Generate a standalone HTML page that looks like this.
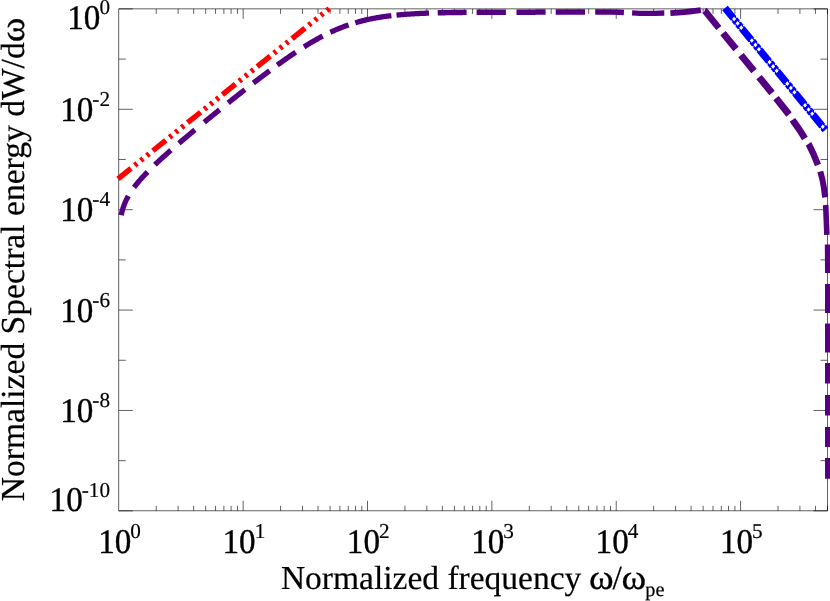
<!DOCTYPE html>
<html lang="en"><head><meta charset="utf-8"><title>Spectrum</title>
<style>html,body{margin:0;padding:0;background:#fff;overflow:hidden}svg{display:block;will-change:transform}text{font-family:"Liberation Serif",serif;fill:#000;stroke:#000;stroke-width:.2px;text-rendering:geometricPrecision}</style></head><body>
<svg width="830" height="601" viewBox="0 0 830 601">
<rect width="830" height="601" fill="#fff"/>
<g fill="none" stroke="#000" stroke-width="0.62">
<rect x="118.80" y="8.90" width="708.70" height="501.95"/>
<path d="M156.23 510.85 v-5.00 M156.23 8.90 v5.00 M178.13 510.85 v-5.00 M178.13 8.90 v5.00 M193.67 510.85 v-5.00 M193.67 8.90 v5.00 M205.72 510.85 v-5.00 M205.72 8.90 v5.00 M215.57 510.85 v-5.00 M215.57 8.90 v5.00 M223.89 510.85 v-5.00 M223.89 8.90 v5.00 M231.10 510.85 v-5.00 M231.10 8.90 v5.00 M237.47 510.85 v-5.00 M237.47 8.90 v5.00 M243.16 510.85 v-10.00 M243.16 8.90 v10.00 M280.59 510.85 v-5.00 M280.59 8.90 v5.00 M302.49 510.85 v-5.00 M302.49 8.90 v5.00 M318.03 510.85 v-5.00 M318.03 8.90 v5.00 M330.08 510.85 v-5.00 M330.08 8.90 v5.00 M339.92 510.85 v-5.00 M339.92 8.90 v5.00 M348.25 510.85 v-5.00 M348.25 8.90 v5.00 M355.46 510.85 v-5.00 M355.46 8.90 v5.00 M361.82 510.85 v-5.00 M361.82 8.90 v5.00 M367.51 510.85 v-10.00 M367.51 8.90 v10.00 M404.95 510.85 v-5.00 M404.95 8.90 v5.00 M426.84 510.85 v-5.00 M426.84 8.90 v5.00 M442.38 510.85 v-5.00 M442.38 8.90 v5.00 M454.43 510.85 v-5.00 M454.43 8.90 v5.00 M464.28 510.85 v-5.00 M464.28 8.90 v5.00 M472.60 510.85 v-5.00 M472.60 8.90 v5.00 M479.82 510.85 v-5.00 M479.82 8.90 v5.00 M486.18 510.85 v-5.00 M486.18 8.90 v5.00 M491.87 510.85 v-10.00 M491.87 8.90 v10.00 M529.30 510.85 v-5.00 M529.30 8.90 v5.00 M551.20 510.85 v-5.00 M551.20 8.90 v5.00 M566.74 510.85 v-5.00 M566.74 8.90 v5.00 M578.79 510.85 v-5.00 M578.79 8.90 v5.00 M588.64 510.85 v-5.00 M588.64 8.90 v5.00 M596.96 510.85 v-5.00 M596.96 8.90 v5.00 M604.17 510.85 v-5.00 M604.17 8.90 v5.00 M610.53 510.85 v-5.00 M610.53 8.90 v5.00 M616.22 510.85 v-10.00 M616.22 8.90 v10.00 M653.66 510.85 v-5.00 M653.66 8.90 v5.00 M675.56 510.85 v-5.00 M675.56 8.90 v5.00 M691.09 510.85 v-5.00 M691.09 8.90 v5.00 M703.14 510.85 v-5.00 M703.14 8.90 v5.00 M712.99 510.85 v-5.00 M712.99 8.90 v5.00 M721.32 510.85 v-5.00 M721.32 8.90 v5.00 M728.53 510.85 v-5.00 M728.53 8.90 v5.00 M734.89 510.85 v-5.00 M734.89 8.90 v5.00 M740.58 510.85 v-10.00 M740.58 8.90 v10.00 M778.01 510.85 v-5.00 M778.01 8.90 v5.00 M799.91 510.85 v-5.00 M799.91 8.90 v5.00 M815.45 510.85 v-5.00 M815.45 8.90 v5.00 M827.50 510.85 v-5.00 M827.50 8.90 v5.00 M118.80 8.90 h14.00 M827.50 8.90 h-14.00 M118.80 59.10 h7.00 M827.50 59.10 h-7.00 M118.80 109.29 h14.00 M827.50 109.29 h-14.00 M118.80 159.49 h7.00 M827.50 159.49 h-7.00 M118.80 209.68 h14.00 M827.50 209.68 h-14.00 M118.80 259.88 h7.00 M827.50 259.88 h-7.00 M118.80 310.07 h14.00 M827.50 310.07 h-14.00 M118.80 360.27 h7.00 M827.50 360.27 h-7.00 M118.80 410.46 h14.00 M827.50 410.46 h-14.00 M118.80 460.66 h7.00 M827.50 460.66 h-7.00 M118.80 510.85 h14.00 M827.50 510.85 h-14.00"/>
</g>
<g fill="none" stroke-linecap="butt" stroke-linejoin="miter" stroke-width="5.60">
<path stroke="#550082" stroke-width="5.30" d="M121.23 215.30 L121.40 214.44 L121.65 213.28 L121.90 212.21 L122.15 211.22 L122.40 210.28 L122.65 209.40 L122.90 208.56 L123.15 207.76 L123.40 207.00 L123.65 206.27 L123.90 205.57 L124.15 204.89 L124.40 204.24 L124.65 203.61 L124.90 203.00 L125.15 202.41 L125.40 201.84 L125.65 201.28 L125.90 200.74 L126.15 200.21 L126.40 199.69 L126.65 199.18 L126.90 198.69 L127.15 198.20 L127.40 197.73 L127.65 197.26 L127.90 196.80 L128.15 196.35 L128.35 196.00 M134.00 187.43 L134.15 187.23 L134.40 186.90 L134.65 186.57 L134.90 186.24 L135.15 185.92 L136.15 184.64 L137.15 183.41 L138.15 182.20 L139.15 181.02 L140.15 179.87 L141.15 178.74 L142.15 177.63 L143.15 176.54 L144.15 175.46 L145.15 174.41 L146.15 173.36 L147.15 172.33 L147.50 171.98 M154.90 164.71 L155.15 164.47 L156.15 163.53 L157.15 162.59 L158.15 161.66 L159.15 160.73 L160.15 159.81 L161.15 158.90 L162.15 157.99 L163.15 157.09 L164.15 156.19 L165.15 155.29 L166.15 154.40 L167.15 153.51 L168.15 152.63 L169.15 151.74 L170.15 150.87 L170.90 150.21 M178.90 143.31 L179.15 143.10 L180.15 142.24 L181.15 141.39 L182.15 140.55 L183.15 139.70 L184.15 138.86 L185.15 138.02 L186.15 137.17 L187.15 136.34 L188.15 135.50 L189.15 134.66 L190.15 133.83 L191.15 132.99 L192.15 132.16 L193.15 131.33 L194.15 130.50 L194.90 129.88 M204.20 122.23 L205.15 121.45 L206.15 120.64 L207.15 119.82 L208.15 119.01 L209.15 118.19 L210.15 117.38 L211.15 116.57 L212.15 115.76 L213.15 114.95 L214.15 114.14 L215.15 113.33 L216.15 112.52 L217.15 111.71 L218.15 110.91 L219.15 110.10 L219.60 109.74 M228.20 102.84 L229.15 102.09 L230.15 101.29 L231.15 100.49 L232.15 99.70 L233.15 98.90 L234.15 98.11 L235.15 97.32 L236.15 96.52 L237.15 95.73 L238.15 94.94 L239.15 94.15 L240.15 93.37 L241.15 92.58 L242.15 91.79 L243.15 91.01 L244.15 90.23 L244.90 89.64 M253.40 83.03 L254.15 82.45 L255.15 81.68 L256.15 80.91 L257.15 80.15 L258.15 79.38 L259.15 78.61 L260.15 77.85 L261.15 77.09 L262.15 76.33 L263.15 75.57 L264.15 74.82 L265.15 74.06 L266.15 73.31 L267.15 72.56 L268.15 71.81 L269.15 71.07 L269.60 70.73 M277.30 65.07 L278.15 64.45 L279.15 63.73 L280.15 63.01 L281.15 62.29 L282.15 61.58 L283.15 60.87 L284.15 60.16 L285.15 59.46 L286.15 58.75 L287.15 58.06 L288.15 57.36 L289.15 56.67 L290.15 55.98 L291.15 55.30 L292.15 54.62 L293.15 53.94 L294.15 53.27 L295.15 52.60 L295.70 52.23 M304.00 46.86 L304.15 46.77 L305.15 46.15 L306.15 45.53 L307.15 44.91 L308.15 44.30 L309.15 43.70 L310.15 43.10 L311.15 42.51 L312.15 41.92 L313.15 41.34 L314.15 40.77 L315.15 40.20 L316.15 39.63 L317.15 39.07 L318.15 38.52 L319.15 37.97 L320.15 37.44 L321.15 36.90 L322.15 36.37 L322.70 36.09 M330.40 32.28 L331.15 31.93 L332.15 31.46 L333.15 31.01 L334.15 30.56 L335.15 30.12 L336.15 29.69 L337.15 29.27 L338.15 28.85 L339.15 28.44 L340.15 28.03 L341.15 27.63 L342.15 27.24 L343.15 26.86 L344.15 26.48 L345.15 26.11 L346.15 25.75 L347.15 25.39 L348.15 25.05 L348.60 24.89 M355.30 22.75 L356.15 22.50 L357.15 22.21 L358.15 21.93 L359.15 21.65 L360.15 21.38 L361.15 21.12 L362.15 20.86 L363.15 20.61 L364.15 20.37 L365.15 20.13 L366.15 19.89 L367.15 19.67 L368.15 19.44 L369.15 19.23 L370.15 19.02 L371.15 18.81 L372.15 18.61 L373.15 18.42 L374.15 18.23 L375.15 18.04 L376.15 17.86 L377.15 17.69 L378.15 17.52 L379.15 17.35 L380.15 17.19 L381.15 17.03 L382.15 16.88 L383.15 16.73 L384.15 16.59 L385.15 16.45 L386.15 16.31 L387.15 16.18 L388.15 16.05 L389.15 15.93 L390.15 15.81 L391.15 15.69 L391.40 15.66 M396.50 15.12 L397.15 15.05 L398.15 14.96 L399.15 14.87 L400.15 14.78 L401.15 14.69 L402.15 14.61 L403.15 14.52 L404.15 14.45 L405.15 14.37 L406.15 14.29 L407.15 14.22 L408.15 14.15 L409.15 14.09 L410.15 14.02 L411.15 13.96 L412.15 13.90 L413.15 13.84 L414.15 13.78 L415.15 13.72 L416.15 13.67 L417.15 13.62 L418.15 13.57 L419.15 13.52 L420.15 13.47 L421.15 13.43 L422.15 13.38 L423.15 13.34 L424.15 13.30 L425.15 13.26 L426.15 13.22 L427.15 13.18 L428.15 13.15 L429.00 13.12 M632.10 12.91 L640.00 13.30 L655.00 13.30 L664.00 13.00 L664.30 13.00"/>
<path stroke="#550082" stroke-width="5.40" d="M437.70 12.86 L438.15 12.84 L439.15 12.82 L440.15 12.79 L441.15 12.77 L442.15 12.75 L443.15 12.73 L444.15 12.71 L445.15 12.68 L446.15 12.67 L447.15 12.65 L448.15 12.63 L449.15 12.61 L450.15 12.59 L451.15 12.58 L452.15 12.56 L453.15 12.54 L454.15 12.53 L455.15 12.51 L456.15 12.50 L457.15 12.49 L458.15 12.47 L459.15 12.46 L460.15 12.45 L461.15 12.44 L462.15 12.43 L463.15 12.41 L464.15 12.40 L465.15 12.39 L466.15 12.38 L466.60 12.38"/>
<path stroke="#550082" stroke-width="5.50" d="M476.60 12.30 L477.15 12.29 L478.15 12.29 L479.15 12.28 L480.15 12.27 L481.15 12.27 L482.15 12.26 L483.15 12.26 L484.15 12.25 L485.15 12.25 L486.15 12.24 L487.15 12.24 L488.15 12.23 L489.15 12.23 L490.15 12.22 L491.15 12.22 L492.15 12.22 L493.15 12.21 L494.15 12.21 L495.15 12.20 L496.15 12.20 L497.15 12.20 L498.15 12.19 L499.15 12.19 L500.15 12.19 L501.15 12.18 L502.15 12.18 L503.15 12.18 L504.15 12.18 L505.15 12.17 L505.90 12.17 M516.50 12.15 L517.15 12.15 L518.15 12.15 L519.15 12.15 L520.15 12.14 L521.15 12.14 L522.15 12.14 L523.15 12.14 L524.15 12.14 L525.15 12.14 L526.15 12.14 L527.15 12.13 L528.15 12.13 L529.15 12.13 L530.15 12.13 L531.15 12.13 L532.15 12.13 L533.15 12.13 L534.15 12.13 L535.15 12.13 L536.15 12.12 L537.15 12.12 L538.15 12.12 L539.15 12.12 L540.15 12.12 L541.15 12.12 L542.15 12.12 L543.15 12.12 L544.15 12.12 L545.15 12.12 L545.60 12.12 M555.70 12.11 L556.15 12.11 L557.15 12.11 L558.15 12.11 L559.15 12.11 L560.15 12.11 L561.15 12.11 L562.15 12.11 L563.15 12.11 L564.15 12.11 L565.15 12.11 L566.15 12.11 L567.15 12.11 L568.15 12.11 L569.15 12.11 L570.15 12.11 L571.15 12.11 L572.15 12.11 L573.15 12.11 L574.15 12.11 L575.15 12.11 L576.15 12.11 L577.15 12.11 L578.15 12.11 L579.15 12.11 L580.15 12.11 L581.15 12.11 L582.15 12.11 L583.15 12.10 L584.15 12.10 L585.00 12.10 M595.20 12.10 L596.15 12.10 L597.15 12.10 L598.15 12.10 L599.15 12.10 L600.15 12.10 L601.15 12.10 L602.15 12.10 L603.15 12.10 L604.15 12.10 L605.15 12.10 L606.15 12.10 L607.15 12.10 L608.15 12.10 L609.15 12.10 L610.15 12.10 L611.15 12.10 L620.00 12.35 L623.90 12.53"/>
<path stroke="#550082" stroke-width="5.60" d="M825.65 205.00 L825.70 205.70 L826.30 220.00 L826.90 234.90 M827.60 244.60 L827.80 273.00 M827.80 284.00 L827.80 313.00 M827.80 323.60 L827.80 352.40 M827.80 363.00 L827.80 383.60 M827.80 395.00 L827.80 415.60 M827.80 427.00 L827.80 447.00 M827.80 458.00 L827.80 478.70"/>
<path stroke="#550082" stroke-width="5.80" d="M670.40 13.08 L678.00 12.60 L684.00 12.10 L690.00 11.50 L695.00 10.90 L699.00 10.40 L700.80 10.18"/>
<path stroke="#550082" stroke-width="6.00" d="M820.30 171.50 L822.50 180.00 L824.00 188.50 L825.10 197.40"/>
<path stroke="#550082" stroke-width="6.50" d="M808.47 143.90 L808.80 144.40 L813.50 154.00 L817.90 164.90 L817.94 165.00"/>
<path stroke="#550082" stroke-width="6.60" d="M704.60 10.82 L705.00 11.00 L718.00 27.00 L718.80 27.98"/>
<path stroke="#550082" stroke-width="6.70" d="M792.50 119.75 L794.00 122.00 L800.00 130.50 L804.90 138.50"/>
<path stroke="#550082" stroke-width="6.90" d="M723.00 33.11 L736.00 49.00 M741.00 55.11 L754.00 71.00 M759.00 77.11 L772.00 93.00 M776.00 98.06 L789.00 114.50"/>
<path stroke="#ff0000" stroke-width="5.4" stroke-dasharray="16.7 4.75 3 4.75 3 4.75 3 4.75" stroke-dashoffset="0" d="M118.00 178.80 L329.30 8.55"/>
<path stroke="#0000ff" stroke-width="7.20" d="M725.00 8.00 L825.40 129.90"/>
</g>
<path fill="#fff" d="M732.09 19.04 L734.09 16.74 L736.09 19.04 L734.09 21.34 Z M737.93 17.56 L736.28 15.56 L735.79 17.64 Z M731.91 22.52 L730.25 20.51 L732.39 20.44 Z M735.64 23.35 L737.64 21.05 L739.64 23.35 L737.64 25.65 Z M741.48 21.87 L739.82 19.86 L739.34 21.95 Z M735.45 26.83 L733.80 24.82 L735.94 24.74 Z M739.19 27.65 L741.19 25.35 L743.19 27.65 L741.19 29.95 Z M745.02 26.18 L743.37 24.17 L742.88 26.25 Z M739.00 31.14 L737.35 29.13 L739.49 29.05 Z M749.83 40.57 L751.83 38.27 L753.83 40.57 L751.83 42.87 Z M755.67 39.10 L754.01 37.09 L753.53 39.18 Z M749.64 44.06 L747.99 42.05 L750.13 41.97 Z M753.38 44.88 L755.38 42.58 L757.38 44.88 L755.38 47.18 Z M759.21 43.41 L757.56 41.40 L757.07 43.48 Z M753.19 48.36 L751.54 46.36 L753.68 46.28 Z M756.92 49.19 L758.92 46.89 L760.92 49.19 L758.92 51.49 Z M762.76 47.71 L761.11 45.71 L760.62 47.79 Z M756.74 52.67 L755.09 50.66 L757.23 50.59 Z M767.57 62.11 L769.57 59.81 L771.57 62.11 L769.57 64.41 Z M773.40 60.63 L771.75 58.63 L771.26 60.71 Z M767.38 65.59 L765.73 63.59 L767.87 63.51 Z M771.11 66.42 L773.11 64.12 L775.11 66.42 L773.11 68.72 Z M776.95 64.94 L775.30 62.93 L774.81 65.02 Z M770.93 69.90 L769.28 67.89 L771.42 67.82 Z M774.66 70.72 L776.66 68.42 L778.66 70.72 L776.66 73.02 Z M780.50 69.25 L778.85 67.24 L778.36 69.33 Z M774.48 74.21 L772.82 72.20 L774.96 72.12 Z M785.30 83.65 L787.30 81.35 L789.30 83.65 L787.30 85.95 Z M791.14 82.17 L789.49 80.16 L789.00 82.25 Z M785.12 87.13 L783.47 85.12 L785.61 85.04 Z M788.85 87.95 L790.85 85.65 L792.85 87.95 L790.85 90.25 Z M794.69 86.48 L793.04 84.47 L792.55 86.55 Z M788.67 91.44 L787.01 89.43 L789.15 89.35 Z M792.40 92.26 L794.40 89.96 L796.40 92.26 L794.40 94.56 Z M798.24 90.78 L796.58 88.78 L796.10 90.86 Z M792.21 95.74 L790.56 93.74 L792.70 93.66 Z M803.04 105.18 L805.04 102.88 L807.04 105.18 L805.04 107.48 Z M808.88 103.71 L807.23 101.70 L806.74 103.78 Z M802.86 108.66 L801.20 106.66 L803.34 106.58 Z M806.59 109.49 L808.59 107.19 L810.59 109.49 L808.59 111.79 Z M812.43 108.01 L810.77 106.01 L810.29 108.09 Z M806.40 112.97 L804.75 110.96 L806.89 110.89 Z M810.14 113.80 L812.14 111.50 L814.14 113.80 L812.14 116.10 Z M815.97 112.32 L814.32 110.31 L813.83 112.40 Z M809.95 117.28 L808.30 115.27 L810.44 115.19 Z M820.78 126.72 L822.78 124.42 L824.78 126.72 L822.78 129.02 Z M826.62 125.24 L824.96 123.23 L824.48 125.32 Z M820.59 130.20 L818.94 128.19 L821.08 128.12 Z"/>
<text transform="translate(100.40 29.00) scale(0.959 1)" text-anchor="end" font-size="34.60" style="stroke-width:.4px">10</text><text x="99.40" y="14.40" font-size="21.20">0</text>
<text transform="translate(93.34 120.70) scale(0.959 1)" text-anchor="end" font-size="34.60" style="stroke-width:.4px">10</text><text x="92.34" y="106.10" font-size="21.20">-2</text>
<text transform="translate(93.34 220.95) scale(0.959 1)" text-anchor="end" font-size="34.60" style="stroke-width:.4px">10</text><text x="92.34" y="206.35" font-size="21.20">-4</text>
<text transform="translate(93.34 321.70) scale(0.959 1)" text-anchor="end" font-size="34.60" style="stroke-width:.4px">10</text><text x="92.34" y="307.10" font-size="21.20">-6</text>
<text transform="translate(93.34 421.80) scale(0.959 1)" text-anchor="end" font-size="34.60" style="stroke-width:.4px">10</text><text x="92.34" y="407.20" font-size="21.20">-8</text>
<text transform="translate(82.74 511.20) scale(0.959 1)" text-anchor="end" font-size="34.60" style="stroke-width:.4px">10</text><text x="81.74" y="496.60" font-size="21.20">-10</text>
<text transform="translate(131.29 552.80) scale(0.959 1)" text-anchor="end" font-size="34.60" style="stroke-width:.4px">10</text><text x="130.29" y="537.90" font-size="21.20">0</text>
<text transform="translate(255.65 552.80) scale(0.959 1)" text-anchor="end" font-size="34.60" style="stroke-width:.4px">10</text><text x="254.65" y="537.90" font-size="21.20">1</text>
<text transform="translate(380.00 552.80) scale(0.959 1)" text-anchor="end" font-size="34.60" style="stroke-width:.4px">10</text><text x="379.00" y="537.90" font-size="21.20">2</text>
<text transform="translate(504.36 552.80) scale(0.959 1)" text-anchor="end" font-size="34.60" style="stroke-width:.4px">10</text><text x="503.36" y="537.90" font-size="21.20">3</text>
<text transform="translate(628.71 552.80) scale(0.959 1)" text-anchor="end" font-size="34.60" style="stroke-width:.4px">10</text><text x="627.71" y="537.90" font-size="21.20">4</text>
<text transform="translate(753.07 552.80) scale(0.959 1)" text-anchor="end" font-size="34.60" style="stroke-width:.4px">10</text><text x="752.07" y="537.90" font-size="21.20">5</text>
<text x="280.9" y="588.60" font-size="33.5">Normalized frequency</text>
<text transform="translate(589.1 588.60) scale(1.070 1)" font-size="35.00" style="stroke-width:0.28px">ω</text>
<text x="612.5" y="588.60" font-size="33.60">/</text>
<text transform="translate(621.6 588.60) scale(1.070 1)" font-size="35.00" style="stroke-width:0.28px">ω</text>
<text x="645.3" y="596.20" font-size="20.30">pe</text>
<text transform="translate(24.4 501.3) rotate(-90)" font-size="33.60">Normalized Spectral energy dW/d</text>
<text transform="translate(24.4 42.2) rotate(-90) scale(1.070 1)" font-size="35.00" style="stroke-width:0.28px">ω</text>
</svg></body></html>
